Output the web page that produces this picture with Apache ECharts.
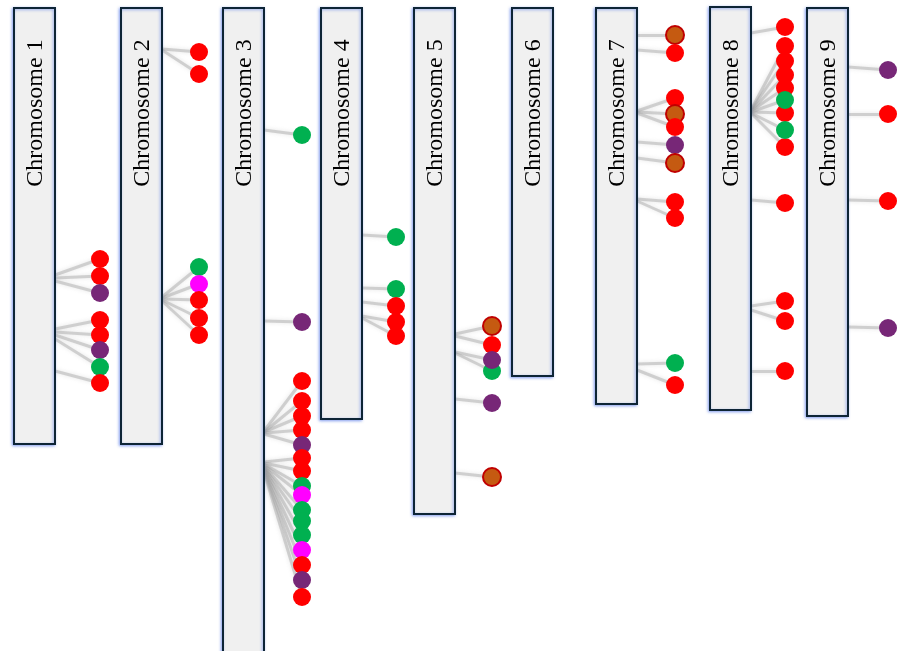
<!DOCTYPE html>
<html>
<head>
<meta charset="utf-8">
<script src="https://cdn.jsdelivr.net/npm/echarts@6/dist/echarts.min.js"></script>
<style>
  html, body { margin: 0; padding: 0; background: #ffffff; }
  #chart { width: 897px; height: 651px; }
</style>
</head>
<body>
<div id="chart"></div>
<script>
// Chromosome names and extents (position units along the vertical axis)
const chromosomes = ['Chromosome 1', 'Chromosome 2', 'Chromosome 3', 'Chromosome 4', 'Chromosome 5',
                     'Chromosome 6', 'Chromosome 7', 'Chromosome 8', 'Chromosome 9'];
const chromStart = [8, 8, 8, 8, 8, 8, 8, 7, 8];
const chromEnd   = [444, 444, 680, 419, 514, 376, 404, 410, 416];

// Markers per chromosome: [locus on chromosome, label slot, marker class]
const chr1Markers = [[275, 259, 'R'], [278, 276, 'R'], [281, 293, 'P'], [329, 320, 'R'], [332, 335, 'R'],
                     [335, 350, 'P'], [339, 367, 'G'], [371, 383, 'R']];
const chr2Markers = [[49, 52, 'R'], [50, 74, 'R'], [297, 267, 'G'], [298, 284, 'M'], [299, 300, 'R'],
                     [300, 318, 'R'], [301, 335, 'R']];
const chr3Markers = [[130, 135, 'G'], [321, 322, 'P'], [431, 381, 'R'], [432, 401, 'R'], [432, 416, 'R'],
                     [433, 430, 'R'], [434, 445, 'P'], [462, 458, 'R'], [463, 471, 'R'], [464, 486, 'G'],
                     [465, 495, 'M'], [466, 510, 'G'], [467, 521, 'G'], [468, 535, 'G'], [469, 550, 'M'],
                     [470, 565, 'R'], [471, 580, 'P'], [472, 597, 'R']];
const chr4Markers = [[235, 237, 'G'], [288, 289, 'G'], [302, 306, 'R'], [316, 322, 'R'], [318, 336, 'R']];
const chr5Markers = [[334, 326, 'B'], [336, 345, 'R'], [353, 371, 'G'], [352, 360, 'P'], [399, 403, 'P'],
                     [473, 477, 'B']];
const chr6Markers = [];
const chr7Markers = [[35, 35, 'B'], [50, 53, 'R'], [111, 98, 'R'], [112, 114, 'B'], [113, 127, 'R'],
                     [142, 145, 'P'], [158, 163, 'B'], [199, 202, 'R'], [201, 218, 'R'], [364, 363, 'G'],
                     [370, 385, 'R']];
const chr8Markers = [[33, 27, 'R'], [110, 46, 'R'], [110, 61, 'R'], [111, 75, 'R'], [111, 88, 'R'],
                     [112, 113, 'R'], [112, 100, 'G'], [113, 147, 'R'], [113, 130, 'G'], [200, 203, 'R'],
                     [306, 301, 'R'], [310, 321, 'R'], [371, 371, 'R']];
const chr9Markers = [[67, 70, 'P'], [114, 114, 'R'], [200, 201, 'R'], [327, 328, 'P']];

const markersByChrom = [chr1Markers, chr2Markers, chr3Markers, chr4Markers, chr5Markers,
                        chr6Markers, chr7Markers, chr8Markers, chr9Markers];

// Layout: horizontal placement of each chromosome bar and its marker column
const chromLeft = [14, 121, 223, 321, 414, 512, 596, 710, 807];
const chromWidth = 41;
const markerColumn = [100, 199, 302, 396, 492, 532, 675, 785, 888];
const labelCenter = 113;

// Marker class styles
const classStyle = {
  R: { color: '#FF0000', opacity: 1 },
  P: { color: '#772777', opacity: 1 },
  G: { color: '#00B050', opacity: 1 },
  M: { color: '#FF00FF', opacity: 1 },
  B: { color: '#C55A11', borderColor: '#C00000', borderWidth: 2, opacity: 1 }
};

const chromData = chromosomes.map((name, i) => [i, chromStart[i], chromEnd[i]]);

const linkData = [];
const dotData = [];
markersByChrom.forEach((list, c) => {
  list.forEach(([locus, slot, cls]) => {
    linkData.push({ coords: [[chromLeft[c] + chromWidth, locus], [markerColumn[c], slot]] });
    dotData.push({ value: [markerColumn[c], slot], itemStyle: classStyle[cls] });
  });
});

const chart = echarts.init(document.getElementById('chart'), null, { renderer: 'canvas' });
chart.setOption({
  backgroundColor: '#ffffff',
  animation: false,
  grid: { left: 0, right: 0, top: 0, bottom: 0 },
  xAxis: { type: 'value', min: 0, max: 897, show: false },
  yAxis: { type: 'value', min: 0, max: 651, inverse: true, show: false },
  series: [
    {
      type: 'lines',
      coordinateSystem: 'cartesian2d',
      silent: true,
      z: 1,
      lineStyle: {
        color: 'rgba(165,165,165,0.45)',
        width: 3,
        curveness: 0,
        opacity: 1,
        shadowBlur: 4,
        shadowColor: 'rgba(140,140,140,0.5)'
      },
      data: linkData
    },
    {
      type: 'custom',
      silent: true,
      z: 2,
      data: chromData,
      renderItem: function (params, api) {
        const i = api.value(0);
        const p0 = api.coord([chromLeft[i], api.value(1)]);
        const p1 = api.coord([chromLeft[i] + chromWidth, api.value(2)]);
        const pc = api.coord([chromLeft[i] + chromWidth / 2, labelCenter]);
        return {
          type: 'group',
          children: [
            {
              type: 'rect',
              shape: { x: p0[0], y: p0[1], width: p1[0] - p0[0], height: p1[1] - p0[1] },
              style: {
                fill: '#F0F0F0',
                stroke: '#0E2536',
                lineWidth: 2,
                shadowBlur: 3,
                shadowColor: 'rgba(70,110,230,0.55)',
                shadowOffsetX: -1,
                shadowOffsetY: 1
              }
            },
            {
              type: 'text',
              x: pc[0] + 1,
              y: pc[1],
              rotation: Math.PI / 2,
              style: {
                text: chromosomes[i],
                fontSize: 24,
                fontFamily: 'Liberation Serif',
                fill: '#000000',
                align: 'center',
                verticalAlign: 'middle'
              }
            }
          ]
        };
      }
    },
    {
      type: 'scatter',
      z: 3,
      symbol: 'circle',
      symbolSize: 18,
      silent: true,
      itemStyle: { opacity: 1 },
      data: dotData
    }
  ]
});
</script>
</body>
</html>
